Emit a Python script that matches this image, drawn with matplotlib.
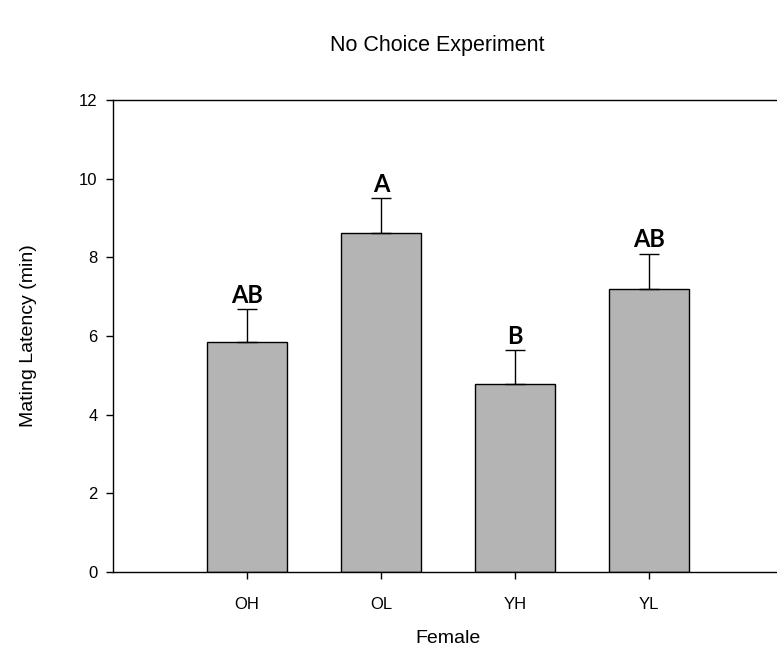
import matplotlib.pyplot as plt

plt.rcParams['font.family'] = ['Liberation Sans', 'DejaVu Sans']

# data
groups = ['OH', 'OL', 'YH', 'YL']
latency = [5.85, 8.62, 4.78, 7.20]
sem = [0.84, 0.89, 0.86, 0.89]
letters = ['AB', 'A', 'B', 'AB']

fig = plt.figure(figsize=(7.77, 6.52), dpi=100)
ax = fig.add_axes([113 / 777, 80 / 652, 670 / 777, 472 / 652])

xs = list(range(1, len(groups) + 1))
ax.bar(xs, latency, width=0.6, color='#b4b4b4', edgecolor='black', linewidth=1.0, zorder=2)
ax.errorbar(xs, latency, yerr=[[0] * len(sem), sem], fmt='none', ecolor='black',
            elinewidth=1.0, capsize=7, capthick=1.0, zorder=3)

for x, m, e, lab in zip(xs, latency, sem, letters):
    ax.text(x, m + e + 0.06, lab, ha='center', va='bottom', fontsize=17,
            fontweight='bold', family=['Lato', 'DejaVu Sans'])

ax.set_xlim(0, 5)
ax.set_ylim(0, 12)
ax.set_yticks([0, 2, 4, 6, 8, 10, 12])
ax.set_xticks(xs)
ax.set_xticklabels(groups)
ax.tick_params(direction='out', length=5, labelsize=12, width=1)
ax.tick_params(axis='y', pad=6)
ax.tick_params(axis='x', pad=13)
ax.spines['right'].set_visible(False)
for s in ('left', 'bottom', 'top'):
    ax.spines[s].set_linewidth(1.0)

ax.set_xlabel('Female', fontsize=14, labelpad=13)
ax.set_ylabel('Mating Latency (min)', fontsize=14, labelpad=30)
fig.text(437 / 777, 1 - 46 / 652, 'No Choice Experiment', ha='center', va='center', fontsize=15.5)

fig.savefig('out.png', dpi=100)
